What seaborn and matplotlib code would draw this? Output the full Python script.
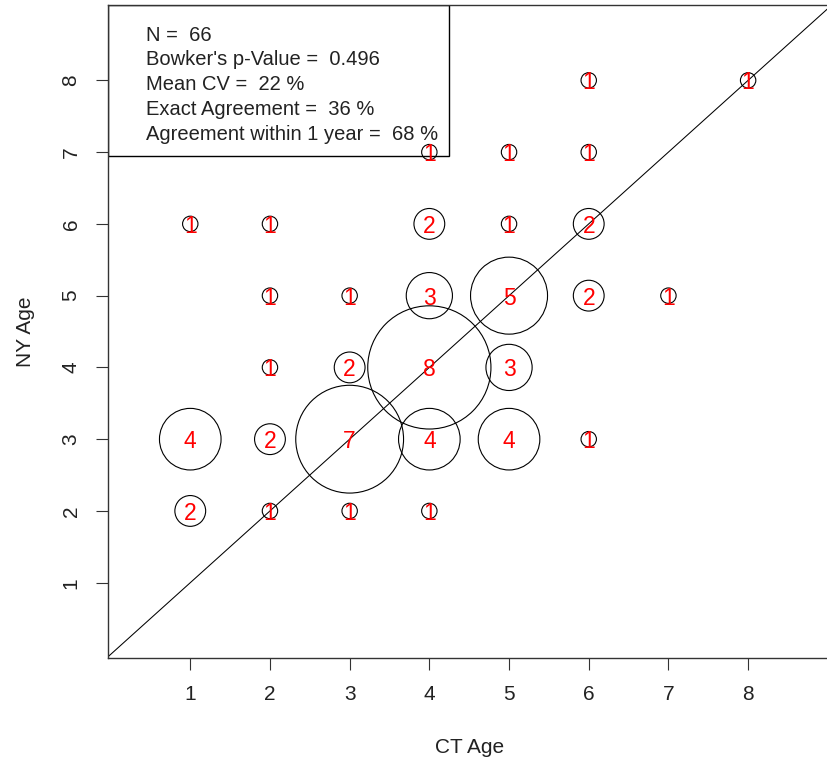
import matplotlib
matplotlib.use("Agg")
import matplotlib.pyplot as plt
import seaborn as sns
import pandas as pd
from matplotlib.patches import Rectangle

# ---- data ----
ct_age = [1, 2, 4, 5, 6, 4, 5, 6, 6, 8, 2, 3, 4, 5, 6, 7, 2, 3, 4, 5, 1, 2, 3, 4, 5, 6, 1, 2, 3, 4]
ny_age = [6, 6, 6, 6, 6, 7, 7, 7, 8, 8, 5, 5, 5, 5, 5, 5, 4, 4, 4, 4, 3, 3, 3, 3, 3, 3, 2, 2, 2, 2]
counts = [1, 1, 2, 1, 2, 1, 1, 1, 1, 1, 1, 1, 3, 5, 2, 1, 1, 2, 8, 3, 4, 2, 7, 4, 4, 1, 2, 1, 1, 1]
ticks = [1, 2, 3, 4, 5, 6, 7, 8]
summary_lines = [
    "N =  66",
    "Bowker's p-Value =  0.496",
    "Mean CV =  22 %",
    "Exact Agreement =  36 %",
    "Agreement within 1 year =  68 %",
]
x_label = "CT Age"
y_label = "NY Age"

df = pd.DataFrame({"ct": ct_age, "ny": ny_age, "n": counts})

sns.set_theme(style="white")
plt.rcParams["font.family"] = ["Liberation Sans", "DejaVu Sans"]

W, H = 828, 763
fig = plt.figure(figsize=(W / 100, H / 100), dpi=100)
# axes placement in pixels
L, R, T, B = 107.7, 831.8, 5.0, 657.7
ax = fig.add_axes([L / W, (H - B) / H, (R - L) / W, (B - T) / H])

# marker diameter ~15.4 px per count -> points
pt_per_n = 15.4 * 0.72
size_map = {v: (pt_per_n * v) ** 2 for v in sorted(set(counts))}

sns.scatterplot(data=df, x="ct", y="ny", size="n", sizes=size_map,
                facecolor="none", edgecolor="black", linewidth=0.8,
                legend=False, ax=ax, zorder=3)

for x, y, n in zip(df["ct"], df["ny"], df["n"]):
    ax.text(x, y, str(n), color="red", ha="center", va="center_baseline",
            fontsize=16.5, zorder=4)

ax.axline((0, 0), slope=1, color="black", lw=0.75, zorder=2)

ax.set_xlim(-0.036, 9.05)
ax.set_ylim(-0.045, 9.05)
ax.set_xticks(ticks)
ax.set_yticks(ticks)
ax.set_xticklabels([str(t) for t in ticks], fontsize=15)
ax.set_yticklabels([str(t) for t in ticks], fontsize=15, rotation=90, va="center")
ax.tick_params(axis="both", direction="out", length=8.5, width=0.8, color="#333333",
               labelcolor="#222222", bottom=True, left=True, pad=11)
ax.set_xlabel(x_label, fontsize=15, labelpad=24.5, color="#222222")
ax.set_ylabel(y_label, fontsize=15, labelpad=19.5, color="#222222")

for s in ["left", "bottom", "top"]:
    ax.spines[s].set_visible(True)
    ax.spines[s].set_color("#333333")
    ax.spines[s].set_linewidth(1.0)
ax.spines["right"].set_visible(False)

# summary box
bx0, by0, bx1, by1 = 107.7, 5.0, 449.0, 156.0
ax.add_patch(Rectangle(((bx0 - L) / (R - L), (B - by1) / (B - T)),
                       (bx1 - bx0) / (R - L), (by1 - by0) / (B - T),
                       transform=ax.transAxes, facecolor="white",
                       edgecolor="black", lw=1.0, zorder=2.5))
baselines = [40.7, 65.0, 90.0, 115.0, 140.0]
for txt, yb in zip(summary_lines, baselines):
    fig.text(146 / W, 1 - yb / H, txt, fontsize=14.5, va="baseline", ha="left",
             color="#222222")

fig.savefig("out.png", dpi=100)
